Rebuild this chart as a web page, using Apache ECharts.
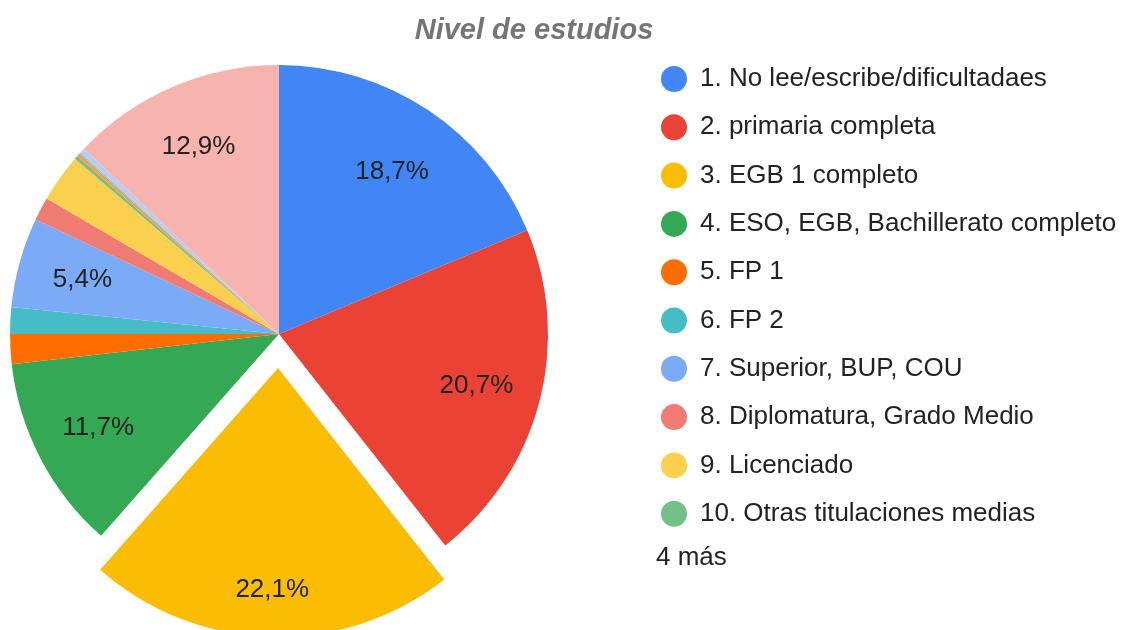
<!DOCTYPE html>
<html>
<head>
<meta charset="utf-8">
<title>Nivel de estudios</title>
<script src="https://cdn.jsdelivr.net/npm/echarts@6/dist/echarts.min.js"></script>
<style>
    html, body { margin: 0; padding: 0; background: #fff; }
    #chart { width: 1127px; height: 630px; }
</style>
</head>
<body>
<div id="chart"></div>
<script>
// Categories (the last four are folded into "4 más" in the legend)
const categories = [
    '1. No lee/escribe/dificultadaes',
    '2. primaria completa',
    '3. EGB 1 completo',
    '4. ESO, EGB, Bachillerato completo',
    '5. FP 1',
    '6. FP 2',
    '7. Superior, BUP, COU',
    '8. Diplomatura, Grado Medio',
    '9. Licenciado',
    '10. Otras titulaciones medias',
    '11.',
    '12.',
    '13.',
    '14.'
];

// Share of each category, percent
const shares = [18.7, 20.7, 22.1, 11.7, 1.8, 1.6, 5.4, 1.4, 2.9, 0.2, 0.2, 0.1, 0.3, 12.9];

const colors = [
    '#4285F4', '#EA4335', '#FBBC04', '#34A853', '#FF6D01', '#46BDC6', '#7BAAF7',
    '#F07B72', '#FCD04F', '#71C287', '#FF994D', '#7ED1D7', '#B3CEFB', '#F7B4AE'
];

const legendCount = 10;
const explodedIndex = 2;

const FONT = "'Liberation Sans', Arial, sans-serif";
const chart = echarts.init(document.getElementById('chart'));

const sliceData = categories.map((name, i) => ({
    name: name,
    value: shares[i],
    selected: i === explodedIndex,
    itemStyle: { color: colors[i] },
    select: { itemStyle: { color: colors[i] } }
}));

// transparent copy, only used to place the percentage labels
const labelData = categories.map((name, i) => ({
    name: name,
    value: shares[i],
    selected: i === explodedIndex
}));

// small vertical nudges so a couple of labels sit like in the original
const labelNudge = { 0: 8, 2: 18 };

const center = [279, 334];

chart.setOption({
    animation: false,
    title: {
        text: 'Nivel de estudios',
        left: 529,
        top: 11,
        textAlign: 'center',
        textStyle: {
            fontFamily: FONT,
            fontSize: 29,
            fontWeight: 'bold',
            fontStyle: 'italic',
            color: '#757575'
        }
    },
    legend: {
        orient: 'vertical',
        left: 656,
        top: 61,
        icon: 'circle',
        itemWidth: 26,
        itemHeight: 26,
        itemGap: 22.3,
        selectedMode: false,
        data: categories.slice(0, legendCount).map((name, i) => ({
            name: name,
            itemStyle: { color: colors[i] }
        })),
        textStyle: {
            fontFamily: FONT,
            fontSize: 26,
            lineHeight: 26,
            color: '#222',
            padding: [0, 0, 0, 8]
        }
    },
    graphic: [{
        type: 'text',
        left: 656,
        top: 545,
        style: {
            text: '4 más',
            fontFamily: FONT,
            fontSize: 26,
            fill: '#222'
        }
    }],
    series: [
        {
            type: 'pie',
            center: center,
            radius: [0, 269],
            startAngle: 90,
            selectedMode: 'single',
            selectedOffset: 34,
            avoidLabelOverlap: false,
            silent: true,
            label: { show: false },
            labelLine: { show: false },
            itemStyle: { borderWidth: 0 },
            data: sliceData
        },
        {
            type: 'pie',
            center: center,
            radius: [136, 266],
            startAngle: 90,
            selectedMode: 'single',
            selectedOffset: 34,
            avoidLabelOverlap: false,
            silent: true,
            itemStyle: { color: 'rgba(0,0,0,0)' },
            labelLine: { show: false },
            label: {
                show: true,
                position: 'inside',
                fontFamily: FONT,
                fontSize: 26,
                color: '#222',
                formatter: p => p.value >= 5 ? p.value.toFixed(1).replace('.', ',') + '%' : ''
            },
            labelLayout: p => ({ dy: labelNudge[p.dataIndex] || 0 }),
            data: labelData
        }
    ]
});
</script>
</body>
</html>
